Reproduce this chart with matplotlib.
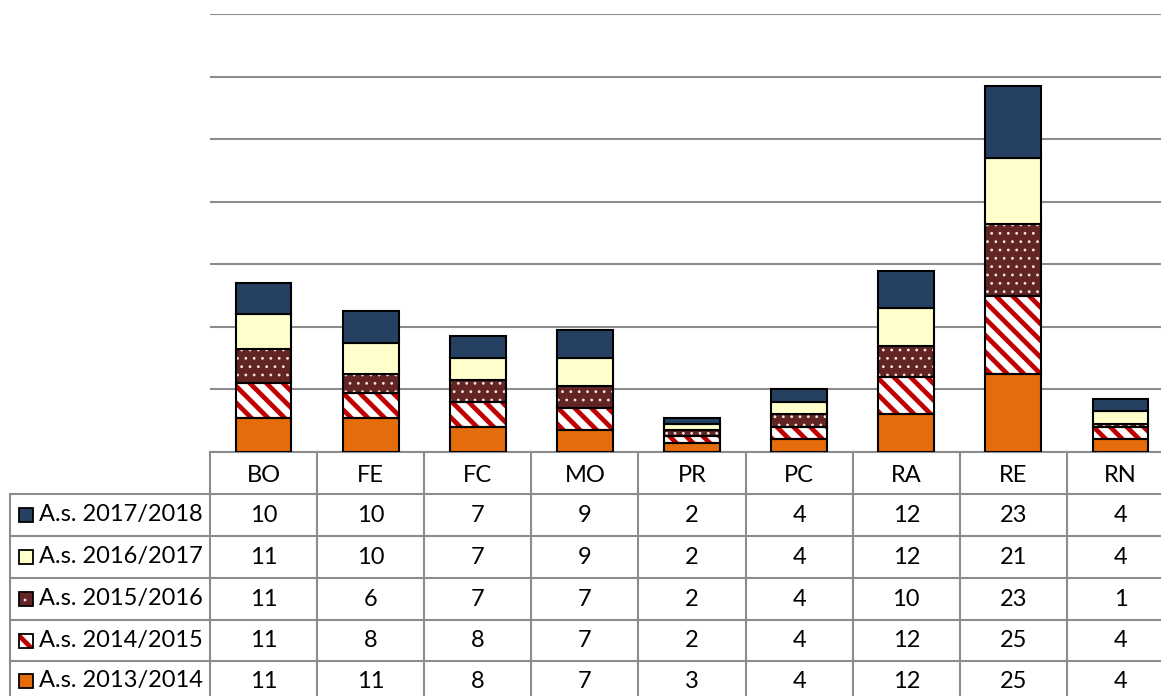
import matplotlib
matplotlib.use("Agg")
import matplotlib.pyplot as plt
from matplotlib.patches import Rectangle
import numpy as np

categories = ["BO", "FE", "FC", "MO", "PR", "PC", "RA", "RE", "RN"]
series_names = ["A.s. 2013/2014", "A.s. 2014/2015", "A.s. 2015/2016",
                "A.s. 2016/2017", "A.s. 2017/2018"]
v_2013_2014 = [11, 11, 8, 7, 3, 4, 12, 25, 4]
v_2014_2015 = [11, 8, 8, 7, 2, 4, 12, 25, 4]
v_2015_2016 = [11, 6, 7, 7, 2, 4, 10, 23, 1]
v_2016_2017 = [11, 10, 7, 9, 2, 4, 12, 21, 4]
v_2017_2018 = [10, 10, 7, 9, 2, 4, 12, 23, 4]
series_values = [v_2013_2014, v_2014_2015, v_2015_2016, v_2016_2017, v_2017_2018]

# styles: (facecolor, hatch, hatchcolor, hatch linewidth)
styles = [
    ("#E46C0A", None, None, None),
    ("#FFFFFF", "\\\\", "#C00000", 3.4),
    ("#632523", "..", "#F2E6E6", 0.8),
    ("#FFFFCC", None, None, None),
    ("#254061", None, None, None),
]

plt.rcParams["font.family"] = ["Lato", "DejaVu Sans"]

W, H = 1161, 696
fig = plt.figure(figsize=(W / 100, H / 100), dpi=100)

x0, x1 = 210, 1174
y_base, y_top = 452, 14
ax = fig.add_axes([x0 / W, 1 - y_base / H, (x1 - x0) / W, (y_base - y_top) / H])
ax.set_xlim(-0.5, len(categories) - 0.5)
ax.set_ylim(0, 140)
ax.set_yticks(np.arange(0, 141, 20))
ax.yaxis.grid(True, color="#8C8C8C", linewidth=1.5)
ax.set_axisbelow(True)
ax.tick_params(left=False, bottom=False, labelleft=False, labelbottom=False)
for s in ["left", "right", "top"]:
    ax.spines[s].set_visible(False)
ax.spines["bottom"].set_color("#8C8C8C")
ax.spines["bottom"].set_linewidth(1.5)


def hatched(patch_fn, hlw):
    with plt.rc_context({"hatch.linewidth": hlw}):
        res = patch_fn()
    items = res if hasattr(res, "__iter__") else [res]
    for p in items:
        if hasattr(p, "set_hatch_linewidth"):
            p.set_hatch_linewidth(hlw)
    return res


x = np.arange(len(categories))
bottom = np.zeros(len(categories))
bw = 0.52
for vals, (fc, hatch, hc, hlw) in zip(series_values, styles):
    vals = np.array(vals, dtype=float)
    if hatch:
        hatched(lambda: ax.bar(x, vals, bw, bottom=bottom, color=fc, edgecolor=hc,
                               hatch=hatch, linewidth=0, zorder=2), hlw)
        ax.bar(x, vals, bw, bottom=bottom, fill=False, edgecolor="black",
               linewidth=1.5, zorder=3)
    else:
        ax.bar(x, vals, bw, bottom=bottom, color=fc, edgecolor="black",
               linewidth=1.5, zorder=3)
    bottom += vals

# table overlay in pixel coords
tab = fig.add_axes([0, 0, 1, 1], zorder=-1)
tab.set_xlim(0, W)
tab.set_ylim(H, 0)
tab.axis("off")
grid_c = "#8C8C8C"
lw = 1.5
col_w = (x1 - x0) / len(categories)
row_tops = [452, 494, 536, 578, 620, 661, 703]
left = 10

for yy in row_tops[1:-1]:
    tab.plot([left, x1], [yy, yy], color=grid_c, lw=lw, solid_capstyle="butt")
for k in range(len(categories) + 1):
    xx = x0 + k * col_w
    tab.plot([xx, xx], [452, H], color=grid_c, lw=lw)
tab.plot([left, left], [494, H], color=grid_c, lw=lw)

fs = 17
for k, c in enumerate(categories):
    tab.text(x0 + (k + 0.5) * col_w, 475, c, ha="center", va="center", fontsize=fs)

order = list(range(len(series_names)))[::-1]
for r, si in enumerate(order):
    yc = (row_tops[r + 1] + row_tops[r + 2]) / 2
    if r == 4:
        yc = 681
    fc, hatch, hc, hlw = styles[si]
    sz = 14
    if hatch:
        hatched(lambda: tab.add_patch(Rectangle((19, yc - sz / 2), sz, sz, facecolor=fc,
                                                edgecolor=hc, hatch=hatch, linewidth=0)),
                hlw)
    tab.add_patch(Rectangle((19, yc - sz / 2), sz, sz,
                            facecolor=fc if not hatch else "none",
                            edgecolor="black", linewidth=1.3))
    tab.text(39, yc, series_names[si], ha="left", va="center", fontsize=fs)
    for k, v in enumerate(series_values[si]):
        tab.text(x0 + (k + 0.5) * col_w, yc, str(v), ha="center", va="center",
                 fontsize=fs)

fig.savefig("out.png", dpi=100)
